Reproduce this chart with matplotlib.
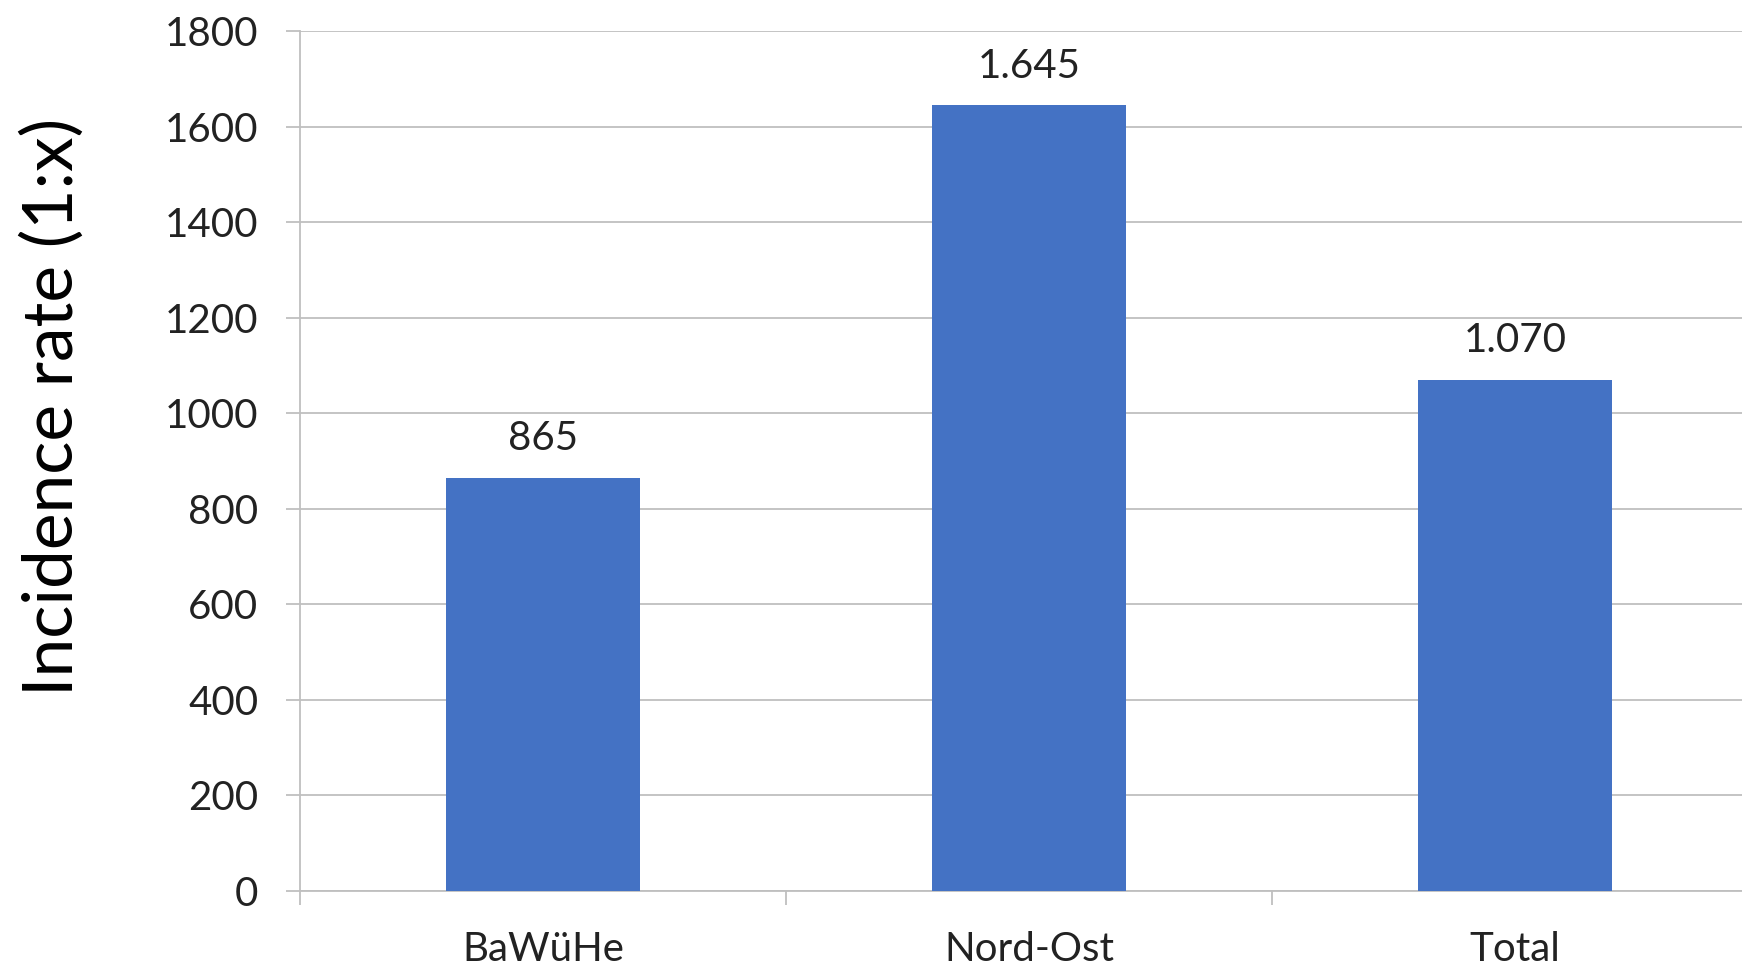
import matplotlib
matplotlib.use("Agg")
import matplotlib.pyplot as plt

regions = ["BaWüHe", "Nord-Ost", "Total"]
rates = [865, 1645, 1070]
y_ticks = [0, 200, 400, 600, 800, 1000, 1200, 1400, 1600, 1800]

plt.rcParams["font.family"] = ["Lato", "DejaVu Sans"]

BAR = "#4472C4"
GRID = "#BFBFBF"
TEXT = "#222222"

fig = plt.figure(figsize=(17.42, 9.64), dpi=100)
W, H = 1742, 964
# axes runs slightly past the right edge of the canvas
ax = fig.add_axes([300 / W, 1 - 891 / H, 1458 / W, 860 / H])

x = list(range(len(regions)))
ax.bar(x, rates, width=0.4, color=BAR, zorder=3)

for xi, v in zip(x, rates):
    label = f"{v:,}".replace(",", ".")
    ax.annotate(label, (xi, v), xytext=(0, 39 * 72 / 100), textcoords="offset points",
                ha="center", va="center", fontsize=29, color=TEXT)

ax.set_xlim(-0.5, len(regions) - 0.5)
ax.set_ylim(0, 1800)
ax.set_yticks(y_ticks)
ax.set_yticklabels([str(t) for t in y_ticks])
ax.yaxis.grid(True, color=GRID, linewidth=1.3, zorder=0)

ax.set_xticks(x)
ax.set_xticklabels(regions)
ax.set_xticks([i - 0.5 for i in range(len(regions) + 1)], minor=True)
ax.tick_params(axis="x", which="major", length=0, pad=29, labelsize=29, labelcolor=TEXT)
ax.tick_params(axis="x", which="minor", length=10, width=1.3, color=GRID)
ax.tick_params(axis="y", length=10, width=1.3, color=GRID, pad=20, labelsize=29, labelcolor=TEXT)

for side in ("top", "right"):
    ax.spines[side].set_visible(False)
for side in ("left", "bottom"):
    ax.spines[side].set_color(GRID)
    ax.spines[side].set_linewidth(1.3)

fig.text(52 / W, 1 - 407 / H, "Incidence rate (1:x)", rotation=90,
         ha="center", va="center", fontsize=50, color="black")

fig.savefig("out.png", dpi=100)
